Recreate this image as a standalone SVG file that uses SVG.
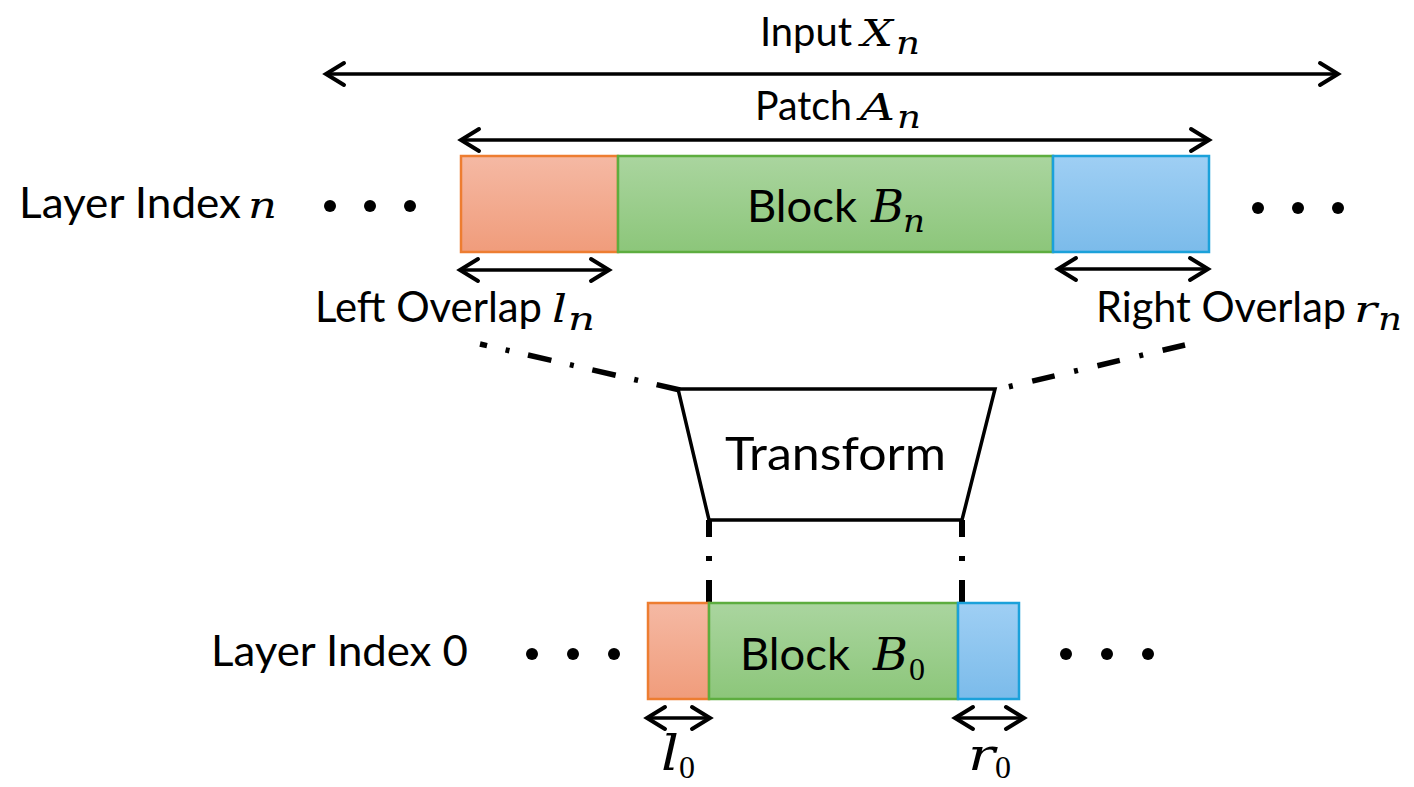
<svg xmlns="http://www.w3.org/2000/svg" width="1414" height="787" viewBox="0 0 1414 787">
  <style>
    .sans { font-family: Lato, "Liberation Sans", sans-serif; fill: #000; }
    .math { font-family: "DejaVu Serif", "Liberation Serif", serif; font-style: italic; fill: #000; }
    .sub { font-family: "Liberation Serif", "Times New Roman", serif; fill: #000; }
    .arrow { stroke: #000; stroke-width: 3.5; fill: none; marker-start: url(#chev); marker-end: url(#chev); }
    .dashdiag { stroke: #000; stroke-width: 5.5; fill: none; }
    .dashvert { stroke: #000; stroke-width: 6; fill: none; stroke-dasharray: 17 19 5 19 30; }
    .orange { fill: url(#gOrange); stroke: #ed7d31; stroke-width: 2.5; }
    .green { fill: url(#gGreen); stroke: #5dad3f; stroke-width: 2.5; }
    .blue { fill: url(#gBlue); stroke: #1ba1da; stroke-width: 2.5; }
  </style>
  <defs>
    <marker id="chev" markerUnits="userSpaceOnUse" markerWidth="30" markerHeight="30" refX="0" refY="0" viewBox="-22 -15 30 30" orient="auto-start-reverse" overflow="visible">
      <path d="M-18,-11 L0,0 L-18,11" fill="none" stroke="#000" stroke-width="4" stroke-linecap="round" stroke-linejoin="miter"/>
    </marker>
    <linearGradient id="gOrange" x1="0" y1="0" x2="0" y2="1">
      <stop offset="0" stop-color="#f5b9a4"/>
      <stop offset="1" stop-color="#f09c7b"/>
    </linearGradient>
    <linearGradient id="gGreen" x1="0" y1="0" x2="0" y2="1">
      <stop offset="0" stop-color="#aad59f"/>
      <stop offset="1" stop-color="#8cc67a"/>
    </linearGradient>
    <linearGradient id="gBlue" x1="0" y1="0" x2="0" y2="1">
      <stop offset="0" stop-color="#9fcff4"/>
      <stop offset="1" stop-color="#7bbbea"/>
    </linearGradient>
  </defs>

  <!-- span arrows and projection lines -->
  <g id="connectors">
    <line class="arrow" x1="326" y1="74" x2="1338" y2="74"/>
    <line class="arrow" x1="461" y1="140" x2="1209" y2="140"/>
    <line class="arrow" x1="460" y1="270" x2="609" y2="270"/>
    <line class="arrow" x1="1058" y1="269" x2="1208" y2="269"/>
    <line class="arrow" x1="647" y1="718" x2="710" y2="718"/>
    <line class="arrow" x1="955" y1="718" x2="1024" y2="718"/>
    <!-- patch edges projected onto the transform -->
    <line class="dashdiag" x1="680" y1="390" x2="480" y2="344" stroke-dasharray="24 19 4 19"/>
    <line class="dashdiag" x1="1185" y1="345" x2="995" y2="390" stroke-dasharray="23 20 4 20"/>
    <!-- transform output projected onto block 0 -->
    <line class="dashvert" x1="709" y1="520" x2="709" y2="603"/>
    <line class="dashvert" x1="962" y1="520" x2="962" y2="603"/>
  </g>

  <g id="input-label">
    <text class="sans" x="760" y="46" font-size="40" textLength="92" lengthAdjust="spacingAndGlyphs">Input</text>
    <text class="math" x="861" y="46" font-size="38" textLength="32" lengthAdjust="spacingAndGlyphs">X</text>
    <text class="math" x="896" y="54" font-size="31" textLength="24" lengthAdjust="spacingAndGlyphs">n</text>
  </g>
  <g id="patch-label">
    <text class="sans" x="755" y="120" font-size="40" textLength="97" lengthAdjust="spacingAndGlyphs">Patch</text>
    <text class="math" x="860" y="120" font-size="38" textLength="35" lengthAdjust="spacingAndGlyphs">A</text>
    <text class="math" x="897" y="128" font-size="31" textLength="24" lengthAdjust="spacingAndGlyphs">n</text>
  </g>

  <!-- layer n -->
  <g id="layer-n-label">
    <text class="sans" x="19" y="218" font-size="42" textLength="222" lengthAdjust="spacingAndGlyphs">Layer Index</text>
    <text class="math" x="248" y="218" font-size="38" textLength="29" lengthAdjust="spacingAndGlyphs">n</text>
  </g>
  <g id="dots-n-left">
    <circle cx="330" cy="206" r="6"/>
    <circle cx="370" cy="206" r="6"/>
    <circle cx="410" cy="206" r="6"/>
  </g>
  <g id="left-overlap-n">
    <rect class="orange" x="461" y="156" width="157" height="96"/>
  </g>
  <g id="block-n">
    <rect class="green" x="618" y="156" width="435" height="96"/>
    <text class="sans" x="747" y="222" font-size="45" textLength="110" lengthAdjust="spacingAndGlyphs">Block</text>
    <text class="math" x="871" y="222" font-size="44" textLength="33" lengthAdjust="spacingAndGlyphs">B</text>
    <text class="math" x="903" y="232" font-size="31" textLength="22" lengthAdjust="spacingAndGlyphs">n</text>
  </g>
  <g id="right-overlap-n">
    <rect class="blue" x="1053" y="156" width="156" height="96"/>
  </g>
  <g id="dots-n-right">
    <circle cx="1258" cy="208" r="6"/>
    <circle cx="1298" cy="208" r="6"/>
    <circle cx="1338" cy="208" r="6"/>
  </g>
  <g id="left-overlap-n-label">
    <text class="sans" x="315" y="322" font-size="42" textLength="227" lengthAdjust="spacingAndGlyphs">Left Overlap</text>
    <text class="math" x="552" y="322" font-size="40" textLength="15" lengthAdjust="spacingAndGlyphs">l</text>
    <text class="math" x="568" y="330" font-size="31" textLength="27" lengthAdjust="spacingAndGlyphs">n</text>
  </g>
  <g id="right-overlap-n-label">
    <text class="sans" x="1096" y="322" font-size="42" textLength="250" lengthAdjust="spacingAndGlyphs">Right Overlap</text>
    <text class="math" x="1354" y="322" font-size="38" textLength="23" lengthAdjust="spacingAndGlyphs">r</text>
    <text class="math" x="1378" y="330" font-size="31" textLength="24" lengthAdjust="spacingAndGlyphs">n</text>
  </g>

  <!-- transform -->
  <g id="transform">
    <polygon points="678,389 995,389 962,520 709,520" fill="#fff" stroke="#000" stroke-width="3.5" stroke-linejoin="miter"/>
    <text class="sans" x="725" y="470" font-size="47" textLength="221" lengthAdjust="spacingAndGlyphs">Transform</text>
  </g>

  <!-- layer 0 -->
  <g id="layer-0-label">
    <text class="sans" x="211" y="666" font-size="43" textLength="257" lengthAdjust="spacingAndGlyphs">Layer Index 0</text>
  </g>
  <g id="dots-0-left">
    <circle cx="532" cy="654" r="6"/>
    <circle cx="573" cy="654" r="6"/>
    <circle cx="614" cy="654" r="6"/>
  </g>
  <g id="left-overlap-0">
    <rect class="orange" x="648" y="603" width="61" height="96"/>
  </g>
  <g id="block-0">
    <rect class="green" x="709" y="603" width="249" height="96"/>
    <text class="sans" x="740" y="670" font-size="45" textLength="110" lengthAdjust="spacingAndGlyphs">Block</text>
    <text class="math" x="873" y="670" font-size="44" textLength="35" lengthAdjust="spacingAndGlyphs">B</text>
    <text class="sub" x="909" y="680" font-size="32">0</text>
  </g>
  <g id="right-overlap-0">
    <rect class="blue" x="958" y="603" width="61" height="96"/>
  </g>
  <g id="dots-0-right">
    <circle cx="1066" cy="654" r="6"/>
    <circle cx="1107" cy="654" r="6"/>
    <circle cx="1148" cy="654" r="6"/>
  </g>
  <g id="left-overlap-0-label">
    <text class="math" x="661" y="770" font-size="48" textLength="18" lengthAdjust="spacingAndGlyphs">l</text>
    <text class="sub" x="679" y="778" font-size="32">0</text>
  </g>
  <g id="right-overlap-0-label">
    <text class="math" x="968" y="770" font-size="44" textLength="27" lengthAdjust="spacingAndGlyphs">r</text>
    <text class="sub" x="995" y="778" font-size="32">0</text>
  </g>
</svg>
